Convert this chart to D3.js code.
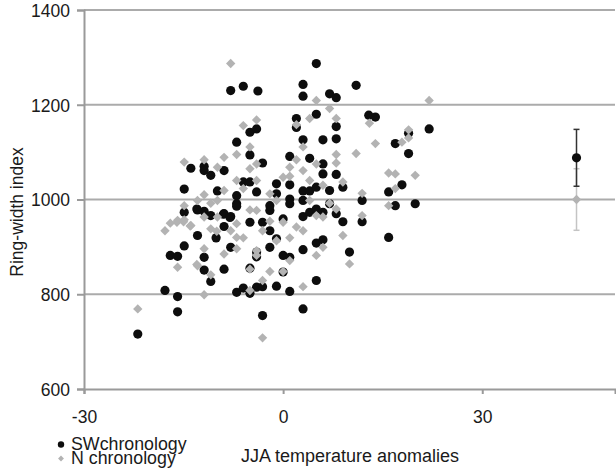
<!DOCTYPE html>
<html>
<head>
<meta charset="utf-8">
<script src="https://cdn.jsdelivr.net/npm/d3@7"></script>
<style>
  html, body { margin: 0; padding: 0; background: #fff; }
  svg { display: block; }
  text { font-family: "Liberation Sans", Arial, sans-serif; fill: #1a1a1a; }
</style>
</head>
<body>
<svg id="chart" width="616" height="472"></svg>
<script>
// SW chronology: JJA temperature anomaly vs ring-width index
const swTemp = [-21.9,-17.8,-15.9,-15.9,-17.0,-15.9,-14.9,-14.9,-14.9,-13.9,-12.9,-12.9,-11.9,-11.9,-11.9,-10.9,-11.9,-11.9,-10.9,-10.9,
  -10.1,-9.9,-8.9,-8.9,-8.9,-8.9,-7.9,-7.9,-7.9,-7.0,-7.0,-7.0,-7.0,-6.0,-6.0,-6.0,-5.0,-5.0,-5.0,-5.0,
  -5.0,-5.0,-4.0,-3.8,-4.0,-4.0,-4.0,-4.0,-3.1,-3.1,-3.1,-3.1,-2.0,-2.0,-2.0,-2.0,-1.0,-1.0,-1.0,-1.0,
  0,0,0,1.0,1.0,1.0,1.0,1.0,1.0,2.0,2.0,3.0,3.0,3.0,3.0,3.0,3.0,3.0,3.0,4.0,
  4.0,4.0,5.0,5.0,5.0,5.0,5.0,5.0,6.0,6.0,6.0,6.0,6.0,7.0,7.0,7.0,8.0,8.0,8.0,8.0,
  8.0,9.0,9.0,10.0,11.0,11.9,11.9,12.9,13.9,15.9,15.9,16.9,16.9,17.9,18.9,18.9,19.9,22.0,-13.0,-9.0,
  -8.0,-7.0];
const swRing = [716,808,795,763,882,880,902,1022,973,1066,924,978,975,1070,1061,1051,878,851,827,966,
  919,1018,1061,970,943,853,964,1230,899,804,1121,1008,991,1239,1037,813,1142,1094,1037,952,
  802,855,1149,1229,1016,815,889,879,1077,952,816,755,934,899,977,987,1033,1012,817,917,
  959,882,847,1091,1031,1001,991,878,806,1171,1152,1243,1218,1126,998,1018,964,894,769,1087,
  1018,973,1287,1180,1026,980,908,829,1126,1075,1054,973,915,1223,1019,991,1215,1154,1128,1053,
  970,1026,953,889,1241,998,953,1178,1174,1016,920,1118,987,1031,1097,1140,991,1149,980,969,
  962,986];

// N chronology
const nTemp = [-21.9,-17.8,-17.0,-15.9,-15.9,-14.9,-14.9,-14.9,-13.9,-12.9,-12.9,-11.9,-11.9,-11.9,-11.9,-11.9,-10.9,-10.9,-10.9,-9.9,
  -9.9,-9.9,-8.9,-8.9,-8.9,-7.9,-7.9,-7.0,-7.0,-7.0,-7.0,-7.0,-6.0,-6.0,-6.0,-5.0,-5.0,-5.0,-5.0,-5.0,
  -4.0,-4.0,-4.0,-4.0,-4.0,-4.0,-3.1,-3.1,-3.1,-2.0,-2.0,-2.0,-1.0,-1.0,0,0,0,1.0,1.0,1.0,
  1.0,2.0,2.0,2.0,3.0,3.0,3.0,3.0,4.0,4.0,4.0,5.0,5.0,5.0,5.0,6.0,6.0,6.0,7.0,7.0,
  8.0,8.0,8.0,8.0,9.0,9.0,10.0,11.0,11.9,11.9,13.0,13.9,15.9,15.9,16.9,16.9,17.9,18.9,18.9,19.9,
  22.0,-16.0,-15.0,-14.0,-13.0,-10.0];
const nRing = [769,934,950,956,857,1079,987,957,945,860,998,1084,1010,963,896,799,938,992,841,1068,
  998,963,1089,1019,885,1287,934,1095,1040,949,896,920,1156,919,1023,1111,1065,978,853,808,
  1168,1075,1040,977,892,882,708,934,829,1012,848,954,998,913,1047,848,952,1068,1049,919,
  871,1158,1084,942,1111,1061,934,816,1171,1040,998,1209,1075,966,882,1030,899,963,1192,992,
  1171,1095,1077,980,924,1037,864,1097,1013,966,1161,1118,1056,987,1054,1023,1121,1147,1130,1051,
  1209,952,953,944,863,933];

// Series means with error bars, plotted at the right of the chart
const meanTemp = [44.2, 44.2];
const meanRing = [1088, 1000];
const meanErr = [60, 65];

const seriesNames = ["SWchronology", "N chronology"];
const xTicks = [-30, 0, 30];
const yTicks = [600, 800, 1000, 1200, 1400];

const svg = d3.select("#chart");
const x = d3.scaleLinear().domain([-30, 50]).range([84, 615]);
const y = d3.scaleLinear().domain([600, 1400]).range([389, 10]);

// horizontal gridlines
svg.append("g").selectAll("line")
  .data(yTicks.filter(v => v > 600))
  .join("line")
  .attr("x1", x(-30)).attr("x2", x(50))
  .attr("y1", d => y(d)).attr("y2", d => y(d))
  .attr("stroke", "#ababab").attr("stroke-width", 2);

// y axis
const yAxis = svg.append("g")
  .attr("transform", `translate(${x(-30)},0)`)
  .call(d3.axisLeft(y).tickValues(yTicks).tickSize(7).tickPadding(7).tickFormat(d => String(d)));
yAxis.select(".domain").attr("stroke", "#9a9a9a").attr("stroke-width", 2);
yAxis.selectAll(".tick line").attr("stroke", "#9a9a9a").attr("stroke-width", 2);
yAxis.selectAll(".tick text").style("font-size", "17.5px").attr("fill", "#1a1a1a").attr("dy", "0.36em");

// x axis
const xAxis = svg.append("g")
  .attr("transform", `translate(0,${y(600)})`)
  .call(d3.axisBottom(x).tickValues(xTicks).tickSize(5).tickPadding(17).tickFormat(d => String(d)));
xAxis.select(".domain").attr("stroke", "#9a9a9a").attr("stroke-width", 2);
xAxis.selectAll(".tick line").attr("stroke", "#9a9a9a").attr("stroke-width", 2);
xAxis.selectAll(".tick text").style("font-size", "17.5px").attr("fill", "#1a1a1a");

const diamond = d3.symbol().type(d3.symbolDiamond2).size(56);
const legendDiamond = d3.symbol().type(d3.symbolDiamond2).size(22);

// SW points (black circles)
svg.append("g").selectAll("circle")
  .data(d3.zip(swTemp, swRing))
  .join("circle")
  .attr("cx", d => x(d[0])).attr("cy", d => y(d[1]))
  .attr("r", 4.6).attr("fill", "#0d0d0d");

// N points (grey diamonds)
svg.append("g").selectAll("path")
  .data(d3.zip(nTemp, nRing))
  .join("path")
  .attr("transform", d => `translate(${x(d[0])},${y(d[1])})`)
  .attr("d", diamond).attr("fill", "#b3b3b3");

// error bars for the series means
const errColors = ["#333333", "#c4c4c4"];
const errG = svg.append("g");
[1, 0].forEach(i => {
  const cx = x(meanTemp[i]);
  const top = y(meanRing[i] + meanErr[i]);
  const bot = y(meanRing[i] - meanErr[i]);
  errG.append("line").attr("x1", cx).attr("x2", cx).attr("y1", top).attr("y2", bot)
    .attr("stroke", errColors[i]).attr("stroke-width", 1.5);
  [top, bot].forEach(yy => errG.append("line")
    .attr("x1", cx - 3).attr("x2", cx + 3).attr("y1", yy).attr("y2", yy)
    .attr("stroke", errColors[i]).attr("stroke-width", 1.5));
});
errG.append("path")
  .attr("transform", `translate(${x(meanTemp[1])},${y(meanRing[1])})`)
  .attr("d", diamond).attr("fill", "#b3b3b3");
errG.append("circle")
  .attr("cx", x(meanTemp[0])).attr("cy", y(meanRing[0]))
  .attr("r", 4.6).attr("fill", "#0d0d0d");

// axis titles
svg.append("text")
  .attr("transform", "translate(23,212) rotate(-90)")
  .attr("text-anchor", "middle")
  .style("font-size", "17.5px")
  .text("Ring-width index");

svg.append("text")
  .attr("x", 350).attr("y", 461.5)
  .attr("text-anchor", "middle")
  .style("font-size", "18px")
  .text("JJA temperature anomalies");

// legend
const leg = svg.append("g");
leg.append("circle").attr("cx", 61).attr("cy", 444.5).attr("r", 3.2).attr("fill", "#0d0d0d");
leg.append("path").attr("transform", "translate(61,458.5)").attr("d", legendDiamond).attr("fill", "#b3b3b3");
leg.append("text").attr("x", 71).attr("y", 450).style("font-size", "17.8px").text(seriesNames[0]);
leg.append("text").attr("x", 71).attr("y", 463.5).style("font-size", "17.8px").text(seriesNames[1]);
</script>
</body>
</html>
